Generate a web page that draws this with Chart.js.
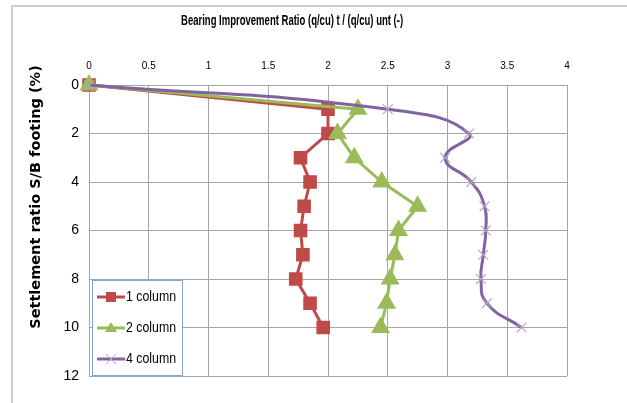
<!DOCTYPE html>
<html>
<head>
<meta charset="utf-8">
<script src="https://cdn.jsdelivr.net/npm/chart.js@4/dist/chart.umd.min.js"></script>
<style>
  html, body { margin: 0; padding: 0; background: #fff; }
  #wrap { width: 627px; height: 403px; position: relative; }
</style>
</head>
<body>
<div id="wrap"><canvas id="chart" width="627" height="403"></canvas></div>
<script>
// settlement ratio S/B (%) on the vertical axis
const settlement = [0, 1, 2, 3, 4, 5, 6, 7, 8, 9, 10];
// bearing improvement ratio for each column group
const oneColumn = [0, 2.00, 2.00, 1.77, 1.85, 1.80, 1.77, 1.79, 1.73, 1.85, 1.96];
const twoColumn = [0, 2.25, 2.08, 2.22, 2.45, 2.75, 2.59, 2.56, 2.52, 2.49, 2.44];
const fourColumn = [0, 2.50, 3.18, 2.98, 3.20, 3.31, 3.32, 3.30, 3.28, 3.33, 3.62];
const seriesNames = ["1 column", "2 column", "4 column"];
const xTicks = [0, 0.5, 1, 1.5, 2, 2.5, 3, 3.5, 4];
const yTicks = [0, 2, 4, 6, 8, 10, 12];

const RED = "#be4b48", GREEN = "#9bbb59", PURPLE = "#8064a2";
const GRID = "#a6a6a6";
const SANS = "'Liberation Sans', Arial, sans-serif";

function toPoints(values) {
  return values.map((v, i) => ({x: v, y: settlement[i]}));
}

// text squeezed horizontally to get a narrow face
function narrowText(ctx, text, x, y, squeeze) {
  ctx.save();
  ctx.translate(x, y);
  ctx.scale(squeeze, 1);
  ctx.fillText(text, 0, 0);
  ctx.restore();
}

// frame, titles and in-plot legend
const decorations = {
  id: "decorations",
  afterDatasetsDraw(chart) {
    const ctx = chart.ctx;
    const area = chart.chartArea;
    ctx.save();

    // outer frame (left and top edges are visible)
    ctx.strokeStyle = "#bfbfbf";
    ctx.lineWidth = 1.5;
    ctx.beginPath();
    ctx.moveTo(12, 410);
    ctx.lineTo(12, 6);
    ctx.lineTo(640, 6);
    ctx.stroke();

    // top title
    ctx.fillStyle = "#000";
    ctx.font = "bold 14px " + SANS;
    ctx.textAlign = "left";
    ctx.textBaseline = "middle";
    narrowText(ctx, "Bearing Improvement Ratio (q/cu) t / (q/cu) unt (-)", 181, 21, 0.68);

    // vertical title
    ctx.save();
    ctx.translate(36, 197);
    ctx.rotate(-Math.PI / 2);
    ctx.textAlign = "center";
    ctx.font = "bold 14.5px 'DejaVu Sans', sans-serif";
    ctx.fillText("Settlement ratio S/B footing (%)", 0, 0);
    ctx.restore();

    // legend box
    const lx = area.left + 3, ly = area.top + 195, lw = 90, lh = 95;
    ctx.fillStyle = "#fff";
    ctx.fillRect(lx, ly, lw, lh);
    ctx.strokeStyle = "#7fa7d9";
    ctx.lineWidth = 1;
    ctx.strokeRect(lx + 0.5, ly + 0.5, lw, lh);

    chart.data.datasets.forEach((ds, i) => {
      const cy = ly + 17 + i * 31;
      ctx.strokeStyle = ds.borderColor;
      ctx.lineWidth = 3;
      ctx.beginPath();
      ctx.moveTo(lx + 5, cy);
      ctx.lineTo(lx + 33, cy);
      ctx.stroke();
      const mx = lx + 19;
      ctx.fillStyle = ds.pointBackgroundColor;
      ctx.strokeStyle = ds.pointBorderColor;
      ctx.lineWidth = 1;
      if (ds.pointStyle === "rect") {
        ctx.fillRect(mx - 5, cy - 5, 10, 10);
      } else if (ds.pointStyle === "triangle") {
        ctx.beginPath();
        ctx.moveTo(mx, cy - 6);
        ctx.lineTo(mx + 6, cy + 4);
        ctx.lineTo(mx - 6, cy + 4);
        ctx.closePath();
        ctx.fill();
      } else {
        ctx.beginPath();
        ctx.moveTo(mx - 5, cy - 5);
        ctx.lineTo(mx + 5, cy + 5);
        ctx.moveTo(mx + 5, cy - 5);
        ctx.lineTo(mx - 5, cy + 5);
        ctx.stroke();
      }
      ctx.fillStyle = "#000";
      ctx.font = "14px " + SANS;
      ctx.textAlign = "left";
      ctx.textBaseline = "middle";
      narrowText(ctx, ds.label, lx + 34, cy, 0.88);
    });
    ctx.restore();
  }
};

new Chart(document.getElementById("chart"), {
  type: "scatter",
  data: {
    datasets: [
      {
        label: seriesNames[0],
        data: toPoints(oneColumn),
        showLine: true,
        order: 3,
        clip: false,
        borderColor: RED,
        borderWidth: 3,
        pointStyle: "rect",
        pointRadius: 7.5,
        pointBackgroundColor: RED,
        pointBorderColor: RED,
        tension: 0,
      },
      {
        label: seriesNames[1],
        data: toPoints(twoColumn),
        showLine: true,
        order: 2,
        clip: false,
        borderColor: GREEN,
        borderWidth: 3,
        pointStyle: "triangle",
        pointRadius: 8,
        pointBackgroundColor: GREEN,
        pointBorderColor: GREEN,
        tension: 0,
      },
      {
        label: seriesNames[2],
        data: toPoints(fourColumn),
        showLine: true,
        order: 1,
        clip: false,
        borderColor: PURPLE,
        borderWidth: 3,
        pointStyle: "crossRot",
        pointRadius: 7,
        pointBackgroundColor: "#b3a2c7",
        pointBorderColor: "#b3a2c7",
        pointBorderWidth: 1.2,
        tension: 0.5,
      },
    ],
  },
  options: {
    responsive: false,
    animation: false,
    layout: {padding: {left: 0, top: 0, right: 60, bottom: 27}},
    plugins: {
      legend: {display: false},
      tooltip: {enabled: false},
    },
    scales: {
      x: {
        type: "linear",
        position: "top",
        min: 0,
        max: 4,
        afterBuildTicks: s => { s.ticks = xTicks.map(v => ({value: v})); },
        afterFit: s => { s.height = 85; },
        grid: {color: GRID, lineWidth: 1, drawTicks: false},
        border: {color: GRID},
        ticks: {
          color: "#000",
          padding: 13,
          font: {family: SANS, size: 10},
          maxRotation: 0,
          callback: v => String(v),
        },
      },
      y: {
        type: "linear",
        reverse: true,
        min: 0,
        max: 12,
        afterBuildTicks: s => { s.ticks = yTicks.map(v => ({value: v})); },
        afterFit: s => { s.width = 89; },
        grid: {color: GRID, lineWidth: 1, drawTicks: false},
        border: {color: GRID},
        ticks: {
          color: "#000",
          padding: 10,
          font: {family: SANS, size: 14},
          callback: v => String(v),
        },
      },
    },
  },
  plugins: [decorations],
});
</script>
</body>
</html>
